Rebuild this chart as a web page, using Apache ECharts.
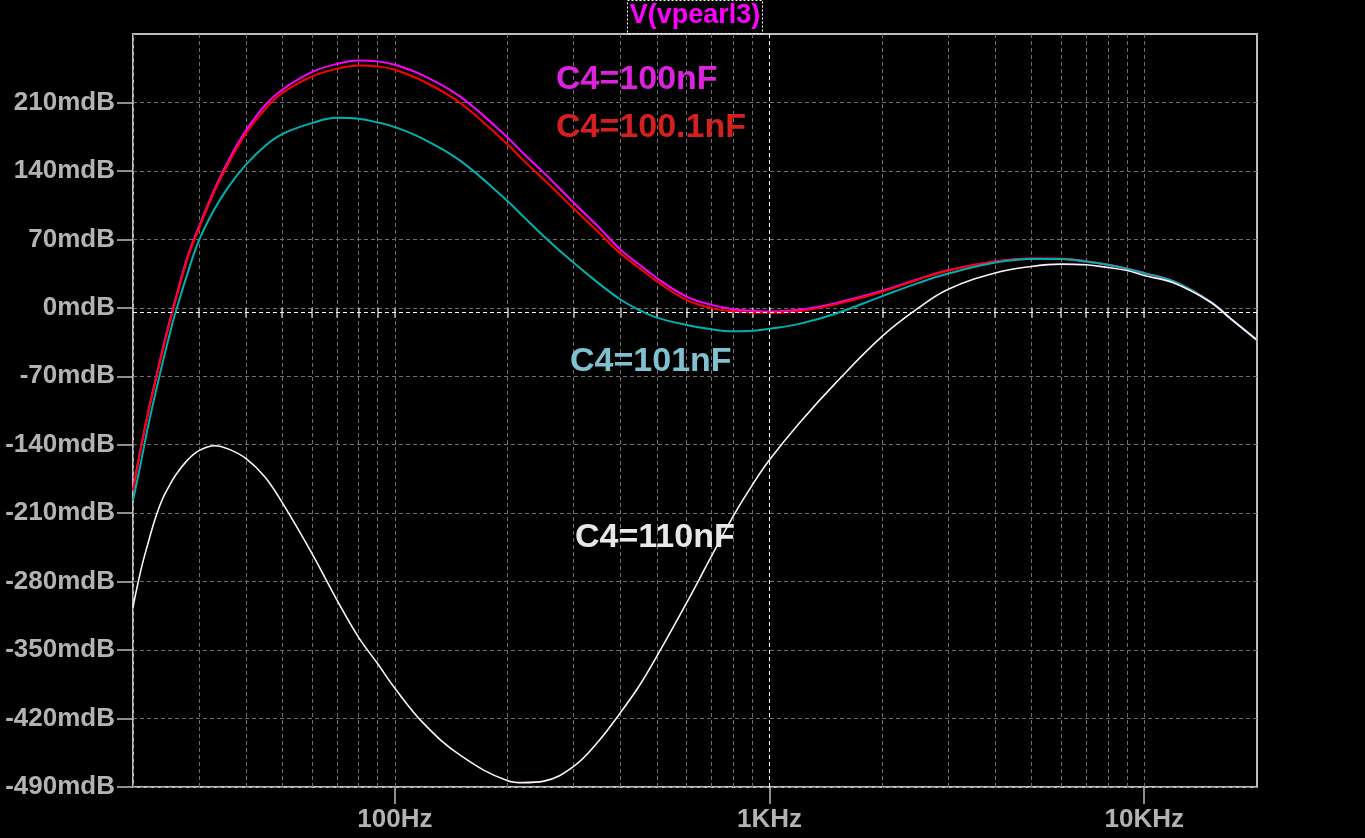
<!DOCTYPE html>
<html>
<head>
<meta charset="utf-8">
<style>
  html, body { margin: 0; padding: 0; background: #000; }
  #chart { width: 1365px; height: 838px; }
</style>
<script src="https://cdn.jsdelivr.net/npm/echarts@6/dist/echarts.min.js"></script>
</head>
<body>
<div id="chart"></div>
<script>
// Frequencies (Hz)
const freqs = [20,21,22,23,24,25,26,28,30,33,36,40,45,50,60,70,80,90,100,120,150,200,220,250,300,350,400,450,500,600,700,800,900,1000,1200,1500,2000,2500,3000,4000,5000,6000,7000,8000,9000,10000,12000,15000,17000,20000];

// V(vpearl3) in mdB for each C4 value
const c4_100nF = [-186,-142.5,-105,-72.5,-42,-15,9.5,53,83,121,151,181,207,223,241,249.5,253,252,248.5,237,215.5,174,158,138,107.5,82.5,59.5,44,30.5,11.5,3,-1.5,-3,-3.8,-2,4.8,17.5,29.5,38.5,47.5,50.5,50.3,47.5,44,40,35.5,27,6.5,-11,-33];
const c4_100_1nF = [-187,-143.5,-106,-74,-44,-17,7.5,51,81,119,148,178,203,219.5,236.5,244.4,247.8,246.8,243.4,231,209,167,151,131,101.5,77,55.5,40.5,27,8.2,-0.3,-3.8,-4.8,-5,-3.5,3.5,16.5,29,38,47.3,50.3,50.1,47.3,44,40,35.5,27,6.5,-11,-33];
const c4_101nF = [-197,-158,-119,-86,-56,-28.5,-4,36,69,101,124,146.2,165.4,177.6,188.8,194.3,193.3,189.5,184.8,172,150,109,93.5,73,46,25,8.5,-2.5,-10,-17.5,-22,-24,-23.5,-21.5,-16.4,-6,12,25.5,35,46.3,50,50,47.3,44,40,35.5,27,6.5,-11,-33];
const c4_110nF = [-306,-268,-239,-214,-195,-182,-171,-155.5,-146,-141,-144.5,-154,-173,-199,-250.8,-298.6,-337,-364,-389,-426,-458,-483.5,-485.5,-484,-469,-443,-414,-386,-356.5,-302,-254,-213,-181,-155.4,-118,-77,-29,0,19,35.5,42.3,44.7,44,41.2,38.1,33,25.3,6,-11,-33];

// Axis ticks
const yTicks = [-490,-420,-350,-280,-210,-140,-70,0,70,140,210];
const xMinorTicks = [20,30,40,50,60,70,80,90,200,300,400,500,600,700,800,900,2000,3000,4000,5000,6000,7000,8000,9000];
const xMajorTicks = [100,1000,10000];
const xMajorLabels = ['100Hz','1KHz','10KHz'];
const cursorFreq = 1000;
const cursorLevel = -4.8;

const seriesNames = ['C4=100nF','C4=100.1nF','C4=101nF','C4=110nF'];
const seriesValues = [c4_100nF, c4_100_1nF, c4_101nF, c4_110nF];
const seriesColors = ['#ff00ff','#ff0000','#00b0b0','#fff0ff'];
const seriesWidths = [2,2,2,1.6];

const labelColor = '#b3b3b3';
const frameColor = '#bdbdbd';
const gridColor = '#6e6e6e';
const labelFont = 'Liberation Sans';

const series = seriesNames.map((name, i) => ({
  name: name,
  type: 'line',
  xAxisIndex: 0,
  yAxisIndex: 0,
  data: freqs.map((f, j) => [f, seriesValues[i][j]]),
  showSymbol: false,
  symbol: 'none',
  smooth: 0.4,
  lineStyle: { color: seriesColors[i], width: seriesWidths[i] },
  z: 3 + i,
  silent: true
}));

// cursor lines
series.push({
  type: 'line',
  data: [],
  xAxisIndex: 0,
  yAxisIndex: 0,
  markLine: {
    silent: true,
    symbol: 'none',
    label: { show: false },
    lineStyle: { color: '#ffffff', type: [4, 3], width: 1 },
    data: [{ xAxis: cursorFreq }, { yAxis: cursorLevel }]
  },
  z: 2
});

const chart = echarts.init(document.getElementById('chart'), null, { renderer: 'canvas' });
chart.setOption({
  animation: false,
  backgroundColor: '#000000',
  grid: {
    left: 133, top: 34, right: 108, bottom: 51,
    show: true, borderColor: frameColor, borderWidth: 2, backgroundColor: 'transparent'
  },
  xAxis: [
    {
      type: 'log', logBase: 10, min: 20, max: 20000, position: 'bottom',
      axisLine: { show: false },
      axisTick: { show: true, length: 10, lineStyle: { color: frameColor, width: 1.5 },
        customValues: xMinorTicks.concat(xMajorTicks) },
      axisLabel: { show: false },
      splitLine: { show: true, lineStyle: { color: gridColor, type: [4, 3], width: 1 } },
      minorTick: { show: false }, minorSplitLine: { show: false }
    },
    {
      type: 'log', logBase: 10, min: 20, max: 20000, position: 'bottom',
      axisLine: { show: false },
      axisTick: { show: true, length: 17, lineStyle: { color: frameColor, width: 1.5 },
        customValues: xMajorTicks },
      axisLabel: {
        show: true, customValues: xMajorTicks, margin: 20,
        color: labelColor, fontFamily: labelFont, fontWeight: 'bold', fontSize: 26,
        formatter: function (v) {
          const k = xMajorTicks.indexOf(Math.round(v));
          return k >= 0 ? xMajorLabels[k] : '';
        }
      },
      splitLine: { show: false }
    }
  ],
  yAxis: {
    type: 'value', min: -490, max: 280, interval: 70,
    axisLine: { show: false },
    axisTick: { show: true, length: 16, lineStyle: { color: frameColor, width: 1.5 }, customValues: yTicks },
    axisLabel: {
      customValues: yTicks, margin: 18,
      color: labelColor, fontFamily: labelFont, fontWeight: 'bold', fontSize: 26,
      formatter: function (v) { return v + 'mdB'; }
    },
    splitLine: { show: true, lineStyle: { color: gridColor, type: [4, 3], width: 1 } }
  },
  graphic: [
    { type: 'rect', shape: { x: 627.5, y: 0.5, width: 135, height: 33 },
      style: { fill: 'none', stroke: '#ffffff', lineWidth: 1, lineDash: [2, 2] }, z: 10 },
    { type: 'text', x: 695, y: 2, style: { text: 'V(vpearl3)', fill: '#ff00ff',
      font: 'bold 27px "Liberation Sans"', textAlign: 'center', textVerticalAlign: 'top' }, z: 11 },
    { type: 'text', x: 556, y: 63, style: { text: seriesNames[0], fill: '#dd22dd',
      font: 'bold 34px "Liberation Sans"', textAlign: 'left', textVerticalAlign: 'top' }, z: 11 },
    { type: 'text', x: 556, y: 111, style: { text: seriesNames[1], fill: '#d42020',
      font: 'bold 34px "Liberation Sans"', textAlign: 'left', textVerticalAlign: 'top' }, z: 11 },
    { type: 'text', x: 570, y: 345, style: { text: seriesNames[2], fill: '#80c0d0',
      font: 'bold 34px "Liberation Sans"', textAlign: 'left', textVerticalAlign: 'top' }, z: 11 },
    { type: 'text', x: 575, y: 521, style: { text: seriesNames[3], fill: '#e8e8e8',
      font: 'bold 34px "Liberation Sans"', textAlign: 'left', textVerticalAlign: 'top' }, z: 11 }
  ],
  series: series
});
</script>
</body>
</html>
